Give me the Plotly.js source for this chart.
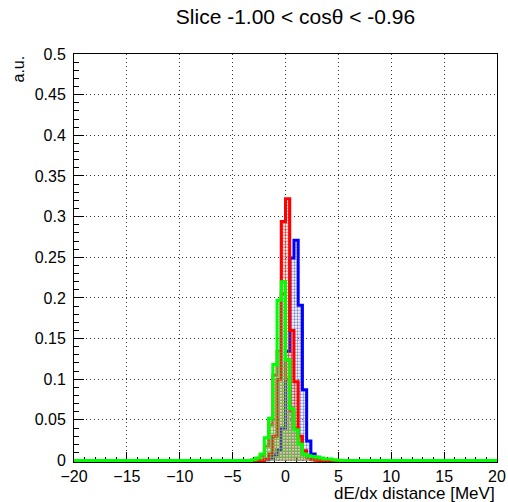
<!DOCTYPE html>
<html>
<head>
<meta charset="utf-8">
<script src="https://cdn.plot.ly/plotly-3.0.1.min.js"></script>
<style>
  html, body { margin: 0; padding: 0; background: #fff; }
  #plot { width: 508px; height: 502px; }
</style>
</head>
<body>
<div id="plot"></div>
<script>
// Histogram binning: 100 bins from -20 to 20 MeV
const xMin = -20;
const xMax = 20;
const nBins = 100;
// Low edge of the first listed bin; bins outside the listed window are empty
const windowStart = -4.0;

// Bin contents (a.u.), bins of 0.4 MeV starting at -4.0
const blueVals   = [0, 0, 0, 0, 0, 0.001, 0.003, 0.007, 0.013, 0.040, 0.134, 0.249, 0.271, 0.191, 0.087, 0.024, 0.008, 0.004, 0.002, 0.001, 0, 0, 0, 0];
const orangeVals = [0, 0, 0, 0.002, 0.006, 0.018, 0.044, 0.105, 0.134, 0.205, 0.100, 0.060, 0.040, 0.020, 0.008, 0.003, 0.001, 0, 0, 0, 0, 0, 0, 0];
const redVals    = [0, 0, 0, 0, 0, 0.002, 0.008, 0.030, 0.100, 0.294, 0.322, 0.160, 0.097, 0.030, 0.012, 0.005, 0.002, 0.001, 0, 0, 0, 0, 0, 0];
const greenVals  = [0, 0, 0.001, 0.003, 0.008, 0.028, 0.052, 0.118, 0.197, 0.220, 0.124, 0.064, 0.038, 0.020, 0.008, 0.006, 0.005, 0.004, 0.003, 0.002, 0.002, 0.001, 0.0005, 0];

const binWidth = (xMax - xMin) / nBins;

function binEdges() {
  const e = [];
  for (let i = 0; i <= nBins; i++) e.push(+(xMin + i * binWidth).toFixed(6));
  return e;
}

// Expand the listed window into the full set of bins, repeating the last
// content so the 'hv' step closes on the upper edge.
function stepY(vals) {
  const full = new Array(nBins).fill(0);
  const off = Math.round((windowStart - xMin) / binWidth);
  vals.forEach((v, i) => { full[off + i] = v; });
  full.push(full[nBins - 1]);
  return full;
}

function histTrace(vals, lineColor, dotColor) {
  return {
    type: 'scatter',
    mode: 'lines',
    x: binEdges(),
    y: stepY(vals),
    line: { shape: 'hv', color: lineColor, width: 3 },
    fill: 'tozeroy',
    fillcolor: 'rgba(0,0,0,0)',
    fillpattern: { shape: '.', fgcolor: dotColor, bgcolor: 'rgba(0,0,0,0)', size: 3, solidity: 0.45 },
    hoverinfo: 'skip',
    showlegend: false
  };
}

const traces = [
  histTrace(blueVals,   '#0000ff', '#8088c8'),
  histTrace(orangeVals, '#c8501e', '#d07040'),
  histTrace(redVals,    '#ff0000', '#e04040'),
  histTrace(greenVals,  '#00ff00', '#50d050')
];

const font = 'Liberation Sans, Arial, Helvetica, sans-serif';

const axisCommon = {
  showline: true,
  linecolor: '#000',
  linewidth: 1,
  mirror: true,
  ticks: 'inside',
  tickcolor: '#000',
  ticklen: 10,
  tickwidth: 1,
  showgrid: true,
  gridcolor: '#333',
  griddash: '1px,3px',
  gridwidth: 1,
  zeroline: false,
  layer: 'below traces',
  tickfont: { family: font, size: 16, color: '#000' },
  fixedrange: true
};

const layout = {
  width: 508,
  height: 502,
  paper_bgcolor: '#fff',
  plot_bgcolor: '#fff',
  margin: { l: 74, r: 11, t: 54, b: 40 },
  title: {
    text: 'Slice -1.00 < cos\u03b8 < -0.96',
    font: { family: font, size: 21, color: '#000' },
    x: 266 / 508,
    xanchor: 'center',
    xref: 'paper',
    y: 1 - 17 / 502,
    yanchor: 'middle'
  },
  xaxis: Object.assign({}, axisCommon, {
    range: [xMin, xMax],
    tickmode: 'linear',
    tick0: -20,
    dtick: 5,
    minor: { ticks: 'inside', ticklen: 5, tickcolor: '#000', dtick: 1, showgrid: false }
  }),
  yaxis: Object.assign({}, axisCommon, {
    range: [-0.0018, 0.5],
    tickmode: 'linear',
    tick0: 0,
    dtick: 0.05,
    ticklabelstandoff: 4,
    minor: { ticks: 'inside', ticklen: 5, tickcolor: '#000', dtick: 0.01, showgrid: false }
  }),
  annotations: [
    {
      text: 'dE/dx distance [MeV]',
      xref: 'paper', yref: 'paper',
      x: 1, xanchor: 'right',
      y: -31 / 408, yanchor: 'middle',
      showarrow: false,
      font: { family: font, size: 17, color: '#000' }
    },
    {
      text: 'a.u.',
      xref: 'paper', yref: 'paper',
      x: -56 / 423, xanchor: 'center',
      y: 1, yanchor: 'top',
      textangle: -90,
      showarrow: false,
      font: { family: font, size: 16, color: '#000' }
    }
  ]
};

Plotly.newPlot('plot', traces, layout, { staticPlot: true, displayModeBar: false });
</script>
</body>
</html>
